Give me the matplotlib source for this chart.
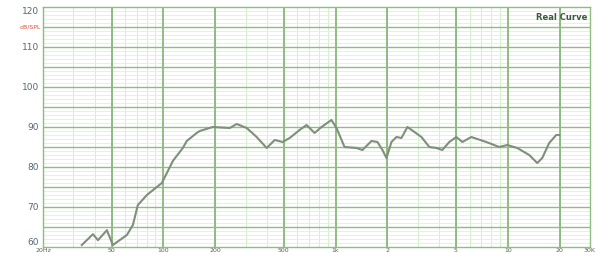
import numpy as np
import matplotlib
matplotlib.use("Agg")
import matplotlib.pyplot as plt
from matplotlib.ticker import FixedLocator, NullFormatter

# frequency response
freq = [33.6, 39, 41.7, 47, 50.9, 61.4, 66.5, 71.1, 80.2, 98, 113.5, 129.7, 136.7,
        156, 162.6, 193.5, 242.8, 266.7, 304.7, 348, 398, 443, 492, 541, 618, 678,
        755, 828, 946, 1012, 1127, 1322, 1432, 1615, 1750, 1871, 1974, 2110, 2256,
        2411, 2613, 2870, 3150, 3502, 3845, 4166, 4573, 5024, 5446, 6138, 7500,
        8916, 9931, 11350, 13310, 14820, 15840, 17390, 19090, 19870]
spl = [60.5, 63.2, 61.7, 64.2, 60.5, 63.0, 65.5, 70.5, 73.0, 76.0, 81.5, 84.75, 86.5,
       88.5, 89.0, 90.0, 89.75, 90.75, 89.75, 87.5, 84.75, 86.75, 86.25, 87.25, 89.25,
       90.5, 88.5, 90.0, 91.75, 89.75, 85.0, 84.75, 84.25, 86.5, 86.25, 84.25, 82.25,
       86.25, 87.5, 87.25, 90.0, 88.75, 87.5, 85.0, 84.75, 84.25, 86.25, 87.5, 86.25,
       87.5, 86.25, 85.0, 85.5, 84.75, 83.0, 81.0, 82.25, 86.0, 88.0, 88.0]

x_ticks = [20, 50, 100, 200, 500, 1000, 2000, 5000, 10000, 20000, 30000]
x_labels = ["20Hz", "50", "100", "200", "500", "1k", "2", "5", "10", "20", "30K"]
y_ticks = [60, 70, 80, 90, 100, 110, 120]

fig = plt.figure(figsize=(6.01, 2.56), dpi=100)
ax = fig.add_axes([43 / 601, 9 / 256, 547 / 601, 240 / 256])

ax.set_xscale("log")
ax.set_xlim(20, 30000)
ax.set_ylim(60, 120)

# minor grid
minor_x = [f * d for d in [10, 100, 1000] for f in range(2, 10)] + [30, 40, 20000]
for f in minor_x:
    if 20 < f < 30000:
        ax.axvline(f, color="#d3f0cc", lw=0.7, zorder=0)
for v in range(61, 120):
    ax.axhline(v, color="#dcf3d6", lw=0.6, zorder=0)
# major grid
for f in x_ticks[1:-1]:
    ax.axvline(f, color="#7fb071", lw=1.2, zorder=1)
for v in range(65, 120, 5):
    ax.axhline(v, color="#8cbf7e", lw=1.0, zorder=1)

ax.plot(freq, spl, color="#7d9079", lw=1.5, zorder=3)

ax.xaxis.set_major_locator(FixedLocator(x_ticks))
ax.xaxis.set_minor_locator(FixedLocator([]))
ax.xaxis.set_minor_formatter(NullFormatter())
ax.set_xticklabels(x_labels)
ax.set_yticks(y_ticks)
ax.tick_params(axis="x", length=0, labelsize=4.5, pad=1, colors="#556655")
ax.tick_params(axis="y", length=0, labelsize=6.5, pad=3, colors="#556677")
ylabs = ax.get_yticklabels()
ylabs[0].set_verticalalignment("bottom")
ylabs[-1].set_verticalalignment("top")

for s in ax.spines.values():
    s.set_color("#8cbf7e")
    s.set_linewidth(1.0)

ax.text(-0.004, 115, "dB/SPL", transform=ax.get_yaxis_transform(), ha="right",
        va="center", fontsize=4.5, color="#e05040")
ax.text(0.995, 0.955, "Real Curve", transform=ax.transAxes, ha="right", va="center",
        fontsize=6, fontweight="bold", color="#3a5a3a")

fig.savefig("out.png", dpi=100)
